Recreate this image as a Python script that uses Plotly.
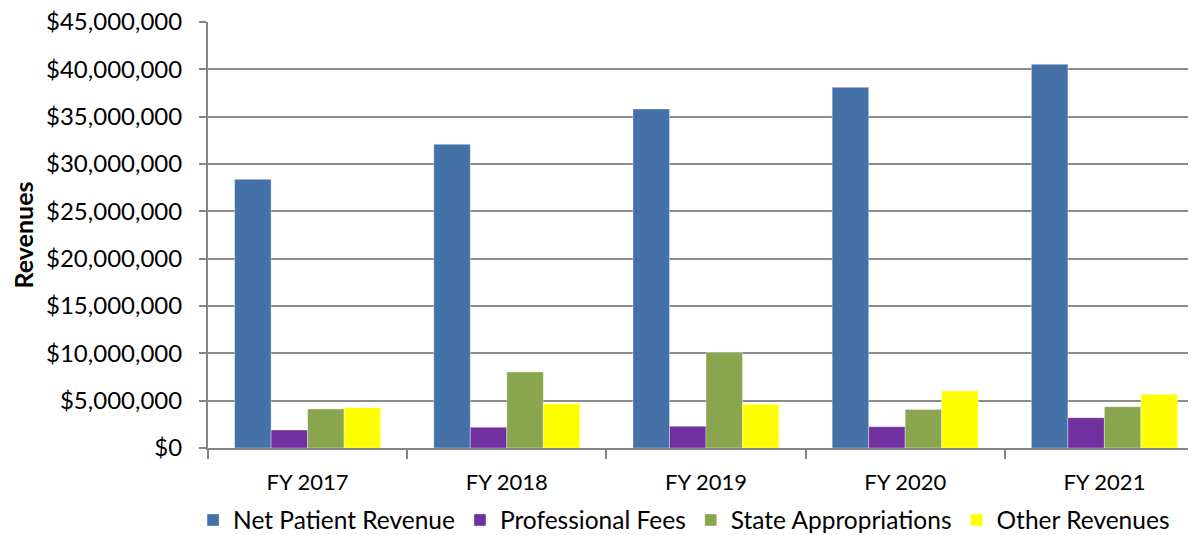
import plotly.graph_objects as go

categories = ["FY 2017", "FY 2018", "FY 2019", "FY 2020", "FY 2021"]
net_patient_revenue = [28380000, 32080000, 35810000, 38100000, 40530000]
professional_fees = [1900000, 2190000, 2290000, 2250000, 3200000]
state_appropriations = [4120000, 8030000, 10070000, 4080000, 4360000]
other_revenues = [4260000, 4680000, 4610000, 6020000, 5670000]

series = [
    ("Net Patient Revenue", net_patient_revenue, "#4472A8"),
    ("Professional Fees", professional_fees, "#7030A0"),
    ("State Appropriations", state_appropriations, "#89A54E"),
    ("Other Revenues", other_revenues, "#FFFF00"),
]

FONT = "Lato"
fig = go.Figure()
for name, vals, col in series:
    fig.add_trace(go.Bar(
        x=categories, y=vals, name=name,
        marker=dict(color=col, line=dict(width=0.6, color="rgba(255,255,255,0.6)")),
    ))

fig.update_layout(
    width=1196, height=535,
    margin=dict(l=200, r=0, t=14, b=95, autoexpand=False),
    barmode="group", bargap=0.267, bargroupgap=0,
    plot_bgcolor="white", paper_bgcolor="white",
    font=dict(family=FONT, size=24, color="black"),
    legend=dict(orientation="h", x=0.478, xanchor="center",
                yref="container", y=0.043, yanchor="middle",
                font=dict(family=FONT, size=24.5), itemwidth=30, tracegroupgap=0),
    showlegend=True,
)
fig.update_xaxes(
    type="category", range=[-0.5, 4.5], automargin=False,
    showline=True, linecolor="#868686", linewidth=2,
    ticks="outside", tickson="boundaries", ticklen=9, tickcolor="#868686", tickwidth=2,
    showgrid=False, tickfont=dict(family=FONT, size=22), ticklabelstandoff=14,
)
fig.update_yaxes(
    range=[0, 45000000], tickmode="linear", tick0=0, dtick=5000000,
    tickprefix="$", tickformat=",", ticklabeloverflow="allow",
    showline=True, linecolor="#868686", linewidth=2, automargin=False,
    ticks="outside", ticklen=7, tickcolor="#868686", tickwidth=2,
    showgrid=True, gridcolor="#8C8C8C", gridwidth=1.5,
    tickfont=dict(family=FONT, size=24), ticklabelstandoff=12,
    title=dict(text="<b>Revenues</b>", font=dict(family=FONT, size=25), standoff=13),
    zeroline=False,
)

fig.write_html("out.html")
